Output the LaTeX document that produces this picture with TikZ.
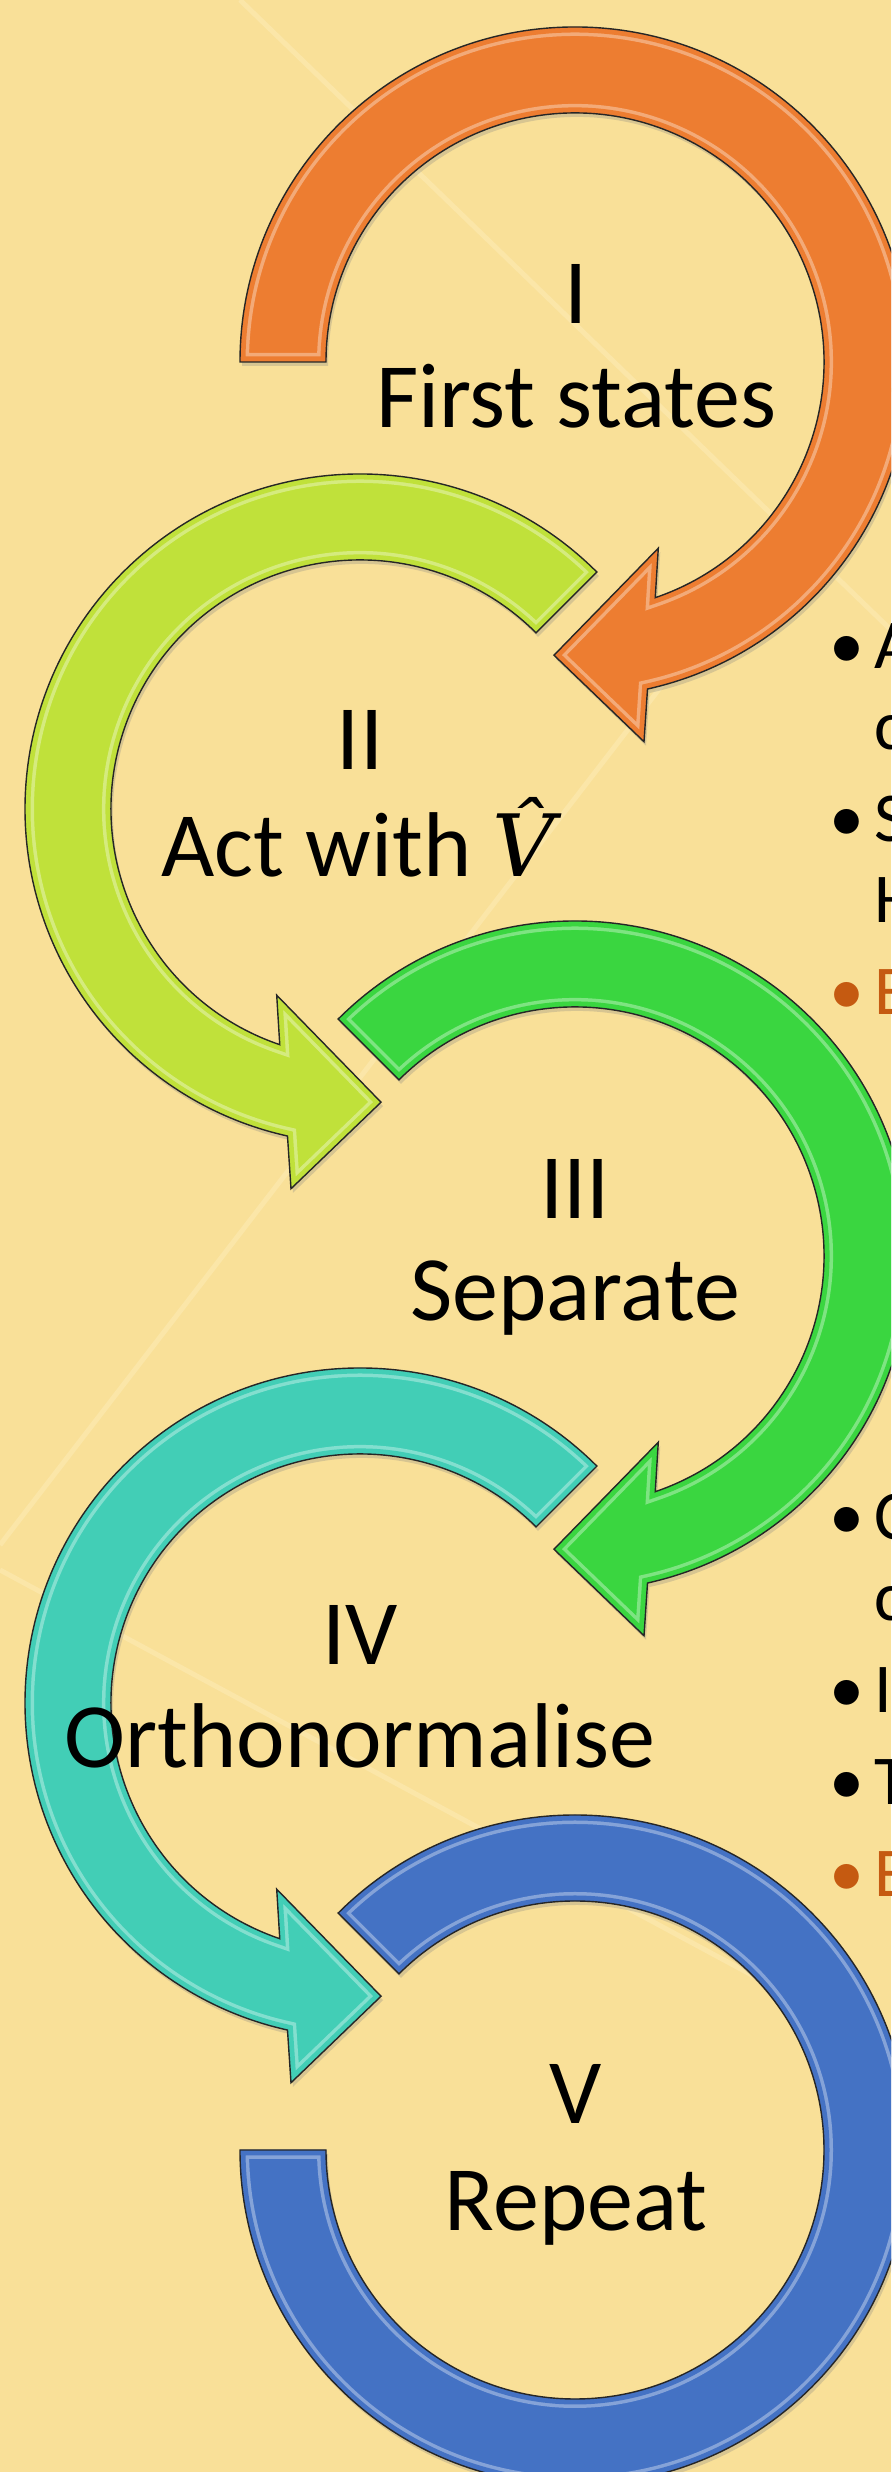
\documentclass[tikz,border=0pt]{standalone}
\usepackage{fontspec}
\setmainfont{Carlito}
\newfontfamily\hatfont{DejaVu Serif}
\usetikzlibrary{shadows}
\definecolor{bgc}{RGB}{249,224,152}
\definecolor{lineC}{RGB}{251,230,168}
\definecolor{cOrange}{RGB}{237,125,49}
\definecolor{cLime}{RGB}{192,225,58}
\definecolor{cGreen}{RGB}{58,214,64}
\definecolor{cTeal}{RGB}{66,206,182}
\definecolor{cBlue}{RGB}{68,114,196}
\definecolor{cText}{RGB}{197,90,17}

% clockwise circular arrow (arrowhead at bottom, pointing left)
\newcommand\cwArrow[1]{(#1:335) arc[start angle=#1, end angle=-77.5, radius=335] -- (-79.7:386) -- (-94.1:294) -- (-65.9:204) -- (-71.2:249) arc[start angle=-71.2, end angle=#1, radius=249] -- cycle}
% counter-clockwise circular arrow (arrowhead at bottom, pointing right)
\newcommand\ccwArrow[1]{(#1:335) arc[start angle=#1, end angle=257.5, radius=335] -- (259.7:386) -- (274.1:294) -- (245.9:204) -- (251.2:249) arc[start angle=251.2, end angle=#1, radius=249] -- cycle}
% open ring without head
\newcommand\ringV{(135:335) arc[start angle=135, end angle=-180, radius=335] -- (-180:249) arc[start angle=-180, end angle=135, radius=249] -- cycle}

\newcommand\fancyshape[3]{%
\begin{scope}[shift={#1}]
\fill[#2, drop shadow={opacity=0.28, shadow xshift=2pt, shadow yshift=-4pt}] #3;
\begin{scope}
\clip #3;
\draw[white, opacity=0.35, line width=18pt] #3;
\draw[#2, line width=11pt] #3;
\end{scope}
\draw[black!85, line width=1.4pt, line join=miter] #3;
\end{scope}}

\tikzset{
  big/.style={font=\fontsize{92}{110}\selectfont, inner sep=0pt, anchor=base},
  sm/.style={font=\fontsize{70}{84}\selectfont, inner sep=0pt, anchor=base west},
  bul/.style={font=\fontsize{70}{84}\selectfont, inner sep=0pt, anchor=base},
  faint/.style={lineC, line width=5pt}
}

\begin{document}
\begin{tikzpicture}[x=1pt,y=1pt]
\useasboundingbox (0,0) rectangle (891,2472);
\fill[bgc] (0,0) rectangle (891,2472);
\clip (0,0) rectangle (891,2472);
% faint background lines
\draw[faint] (240,2472) -- (891,1842);
\draw[faint] (891,2084) -- (0,927);
\draw[faint] (0,902) -- (891,422);

\fancyshape{(575,2110)}{cOrange}{\cwArrow{180}}
\fancyshape{(360,1663)}{cLime}{\ccwArrow{45}}
\fancyshape{(575,1216)}{cGreen}{\cwArrow{135}}
\fancyshape{(360,769)}{cTeal}{\ccwArrow{45}}
\fancyshape{(575,322)}{cBlue}{\ringV}

\node[big] (n1a) at (576,2148) {I};
\node[big] (n1b) at (576,2044) {First states};
\node[big] (n2a) at (360,1702) {II};
\node[big] (n2b) at (358,1595) {Act with {\hatfont\itshape\fontsize{86}{100}\selectfont V\char"0302}};
\node[big] (n3a) at (575,1253) {III};
\node[big] (n3b) at (575,1151) {Separate};
\node[big] (n4a) at (360,807) {IV};
\node[big] (n4b) at (360,704) {Orthonormalise};
\node[big] (n5a) at (576,348) {V};
\node[big] (n5b) at (576,241) {Repeat};

% right-hand bullet text (cut by the page edge)
\node[bul] (b11) at (847,1803) {•};
\node[sm] (t11) at (874,1803) {A};
\node[sm] (t12) at (874,1722) {c};
\node[bul] (b13) at (847,1630) {•};
\node[sm] (t13) at (874,1630) {S};
\node[sm] (t14) at (874,1549) {H};
\node[bul, text=cText] (b15) at (847,1457) {•};
\node[sm, text=cText] (t15) at (874,1457) {E};

\node[bul] (b21) at (847,932) {•};
\node[sm] (t21) at (874,932) {C};
\node[sm] (t22) at (874,851) {c};
\node[bul] (b23) at (847,759) {•};
\node[sm] (t23) at (874,759) {I};
\node[bul] (b24) at (847,667) {•};
\node[sm] (t24) at (874,667) {T};
\node[bul, text=cText] (b25) at (847,575) {•};
\node[sm, text=cText] (t25) at (874,575) {E};
\end{tikzpicture}
\end{document}
